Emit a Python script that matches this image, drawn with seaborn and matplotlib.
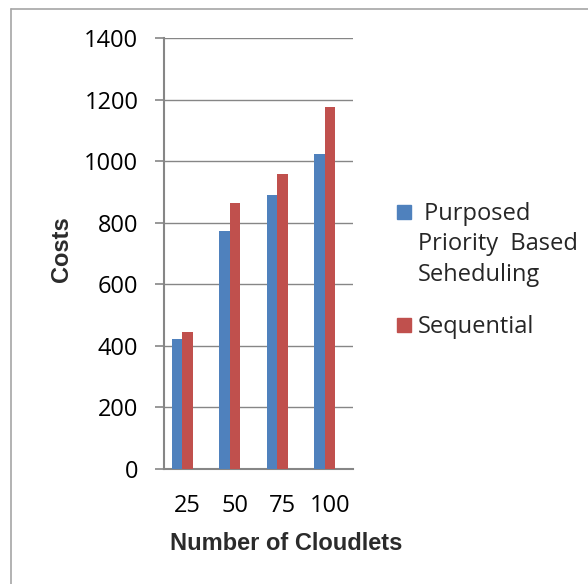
import pandas as pd
import matplotlib
matplotlib.use("Agg")
import matplotlib.pyplot as plt
import matplotlib.transforms as mtrans
from matplotlib.lines import Line2D
from matplotlib.patches import Rectangle
import seaborn as sns

# chart data
cloudlets = ['25', '50', '75', '100']
purposed = [421, 774, 890, 1023]
sequential = [444, 865, 957, 1177]
series_names = [' Purposed\nPriority  Based\nSeheduling', 'Sequential']
series_colors = ['#4F81BD', '#C0504D']
y_ticks = [0, 200, 400, 600, 800, 1000, 1200, 1400]

df = pd.DataFrame({
    'Cloudlets': cloudlets * 2,
    'Costs': purposed + sequential,
    'Series': [series_names[0]] * 4 + [series_names[1]] * 4,
})

sns.set_style('white')
plt.rcParams['font.family'] = ['Open Sans', 'DejaVu Sans']
grey = '#868686'

fig = plt.figure(figsize=(5.88, 5.84), dpi=100)
ax = fig.add_axes([0.279, 0.197, 0.321, 0.738])

sns.barplot(data=df, x='Cloudlets', y='Costs', hue='Series', order=cloudlets,
            hue_order=series_names, palette=series_colors, width=0.44,
            saturation=1, legend=False, ax=ax, zorder=3, linewidth=0)

ax.set_ylim(0, 1400)
# category slots are not centred in the plot area in the original
ax.set_xlim(-0.378, 3.587)
ax.set_yticks(y_ticks)
ax.yaxis.grid(True, color=grey, linewidth=1.0, zorder=0)
ax.set_axisbelow(True)
for s in ['top', 'right']:
    ax.spines[s].set_visible(False)
for s in ['left', 'bottom']:
    ax.spines[s].set_color(grey)
    ax.spines[s].set_linewidth(1.5)

ax.tick_params(axis='y', length=6.5, width=1.2, color=grey, pad=12,
               labelsize=17, labelcolor='black', left=True)
ax.tick_params(axis='x', length=0, pad=18, labelsize=17, labelcolor='black')

# x tick labels sit a little to the right of the bar groups
shift = mtrans.ScaledTranslation(5 / 100, 0, fig.dpi_scale_trans)
for lab in ax.get_xticklabels():
    lab.set_transform(lab.get_transform() + shift)

bold_family = ['Liberation Sans Narrow', 'Liberation Sans', 'DejaVu Sans']
ax.set_xlabel('Number of Cloudlets', fontsize=17, fontweight='bold',
              family=bold_family, color='#2b2b2b')
ax.set_ylabel('Costs', fontsize=17, fontweight='bold',
              family=bold_family, color='#2b2b2b')
ax.xaxis.set_label_coords(0.646, -0.146)
ax.yaxis.set_label_coords(-0.482, 0.509)

# legend drawn by hand so the swatch lines up with the first text line
W, H = 588, 584
fig.patches.append(Rectangle((397 / W, 1 - 219 / H), 14 / W, 14 / H,
                             transform=fig.transFigure, color=series_colors[0]))
fig.text(418 / W, 1 - 202 / H, series_names[0], fontsize=17, va='top',
         ha='left', linespacing=1.36)
fig.patches.append(Rectangle((397 / W, 1 - 332 / H), 14 / W, 14 / H,
                             transform=fig.transFigure, color=series_colors[1]))
fig.text(418 / W, 1 - 333 / H, series_names[1], fontsize=17, va='baseline',
         ha='left')

# chart frame (top and left edges only show in the picture)
fig.add_artist(Line2D([11 / W, 11 / W], [0, 1 - 9 / H], color='#a6a6a6',
                      linewidth=1.2, transform=fig.transFigure))
fig.add_artist(Line2D([11 / W, 1], [1 - 9 / H, 1 - 9 / H], color='#a6a6a6',
                      linewidth=1.2, transform=fig.transFigure))

fig.savefig('out.png', dpi=100)
